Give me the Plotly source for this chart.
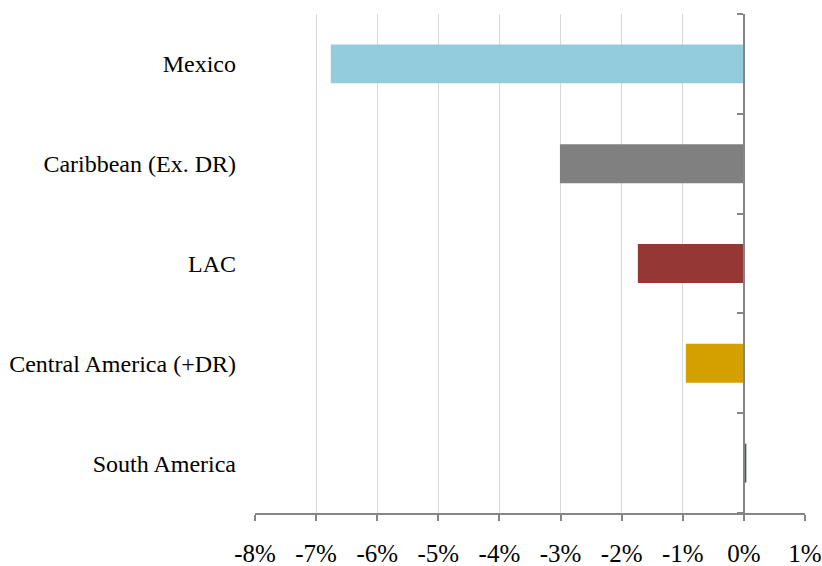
import plotly.graph_objects as go

categories = ["Mexico", "Caribbean (Ex. DR)", "LAC", "Central America (+DR)", "South America"]
values = [-6.76, -3.01, -1.735, -0.95, 0.04]
colors = ["#93CDDD", "#808080", "#953735", "#D4A000", "#2F5F66"]
x_ticks = [-8, -7, -6, -5, -4, -3, -2, -1, 0, 1]
x_tick_labels = [f"{v}%" for v in x_ticks]
x_range = [-8, 1]

font_family = "Liberation Serif, Times New Roman, serif"

fig = go.Figure()
fig.add_trace(go.Bar(
    y=categories, x=values, orientation="h",
    marker=dict(color=colors, line=dict(width=0)),
    width=0.39, showlegend=False,
))
# invisible trace to activate the category tick axis at zero
fig.add_trace(go.Bar(y=categories, x=[0] * len(categories), orientation="h",
                     yaxis="y2", showlegend=False, hoverinfo="skip",
                     marker=dict(color="rgba(0,0,0,0)")))

zero_pos = (0 - x_range[0]) / (x_range[1] - x_range[0])
n = len(categories)
boundaries = [i - 0.5 for i in range(n + 1)]

fig.update_layout(
    width=822, height=566,
    margin=dict(l=255, r=17, t=14, b=53),
    paper_bgcolor="white", plot_bgcolor="white",
    font=dict(family=font_family, color="#000000"),
    barmode="overlay",
    xaxis=dict(
        range=x_range, tickvals=x_ticks, ticktext=x_tick_labels,
        showgrid=True, gridcolor="#D9D9D9", gridwidth=1,
        zeroline=False,
        showline=True, linecolor="#868686", linewidth=1.5,
        ticks="outside", ticklen=6, tickcolor="#868686", tickwidth=1.5,
        tickfont=dict(size=25, family=font_family),
        ticklabelstandoff=11,
        automargin=False,
        fixedrange=True,
    ),
    yaxis=dict(
        type="category", categoryorder="array", categoryarray=categories,
        range=[n - 0.5, -0.5],
        showgrid=False, zeroline=False, showline=False,
        ticks="", tickfont=dict(size=24, family=font_family),
        ticklabelstandoff=18,
        automargin=False,
        fixedrange=True,
    ),
    yaxis2=dict(
        overlaying="y", anchor="free", position=zero_pos, side="left",
        range=[n - 0.5, -0.5],
        tickvals=boundaries, showticklabels=False,
        showgrid=False, zeroline=False,
        showline=True, linecolor="#868686", linewidth=1.5,
        ticks="outside", ticklen=6, tickcolor="#868686", tickwidth=1.5,
        automargin=False,
        fixedrange=True,
    ),
)

fig.write_html("out.html")
